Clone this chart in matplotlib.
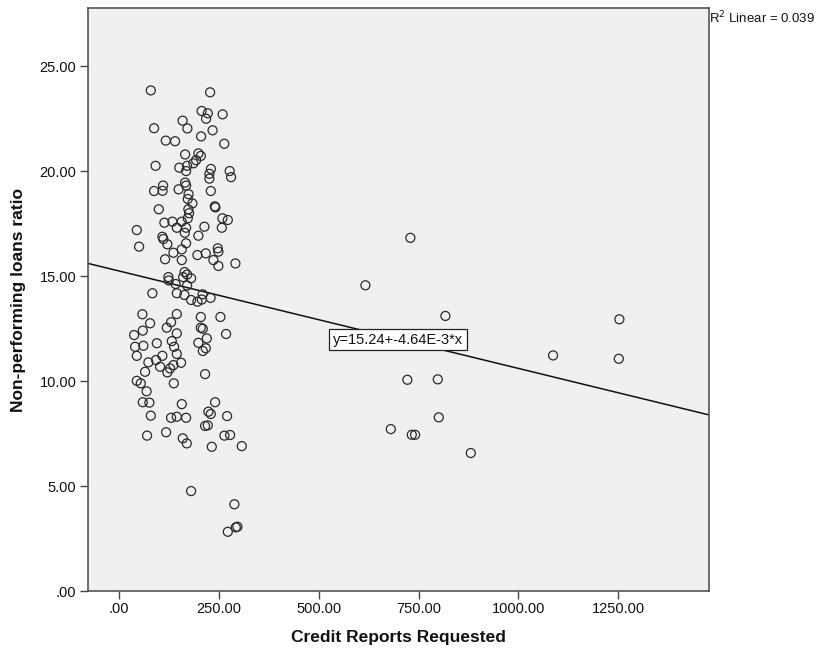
import matplotlib
matplotlib.use("Agg")
import matplotlib.pyplot as plt
import numpy as np
from matplotlib.ticker import FuncFormatter

plt.rcParams['font.family'] = ['Liberation Sans', 'DejaVu Sans']

# Credit Reports Requested (x) and Non-performing loans ratio (y)
reports = [
    79.4, 227.9, 206.6, 222.1, 259.2, 217.8, 159.0, 87.6, 171.0, 234.1,
    205.3, 116.9, 140.2, 263.4, 165.3, 198.6, 204.6, 192.8, 186.0, 91.4,
    150.7, 170.3, 167.8, 229.9, 226.1, 226.1, 276.9, 280.4, 110.2, 165.3,
    167.8, 87.6, 108.9, 149.0, 229.6, 174.0,
    172.0, 183.5, 173.5, 175.3, 172.0, 99.4, 239.6, 241.1, 258.7, 272.2,
    257.2, 213.6, 198.6, 113.4, 133.5, 157.0, 144.5, 167.8, 164.5, 44.3,
    50.1, 108.4, 110.9, 120.9, 167.8, 157.0, 136.0, 115.2, 157.0, 196.1,
    217.1, 247.1, 248.6, 236.1, 248.6, 291.2,
    123.4, 124.4, 141.5, 164.0, 170.3, 160.3, 180.3, 170.3, 83.4, 144.5,
    163.5, 180.3, 196.1, 207.1, 209.1, 229.1,
    58.3, 144.5, 77.6, 130.2, 119.4, 59.3, 37.6, 144.5, 204.6, 253.7,
    204.6, 209.6, 267.9, 219.6, 198.6, 217.1, 209.6, 94.4, 132.0, 137.7,
    40.1, 60.8, 44.3, 144.5, 108.4, 92.6, 73.4, 155.2, 102.7, 136.0,
    127.7, 65.1, 120.9, 215.3, 44.3, 54.3, 137.0, 68.9,
    59.3, 75.9, 157.0, 240.4, 79.4, 130.2, 144.5, 167.8, 223.6, 229.6,
    270.4, 215.3, 222.1, 70.1, 117.7, 159.5, 169.5, 232.1, 263.7, 277.9,
    307.2, 180.3,
    288.7, 272.2, 292.2, 296.2,
    729.3, 616.7, 817.0, 1252.6, 1251.1, 1086.6, 721.8, 797.9, 800.4, 680.3,
    732.8, 741.1, 880.6,
]
npl_ratio = [
    23.84, 23.75, 22.86, 22.75, 22.70, 22.49, 22.40, 22.04, 22.03, 21.94,
    21.65, 21.45, 21.42, 21.30, 20.79, 20.84, 20.72, 20.52, 20.37, 20.25,
    20.16, 20.25, 20.00, 20.10, 19.87, 19.64, 20.00, 19.71, 19.31, 19.45,
    19.31, 19.05, 19.06, 19.13, 19.05, 18.90,
    18.67, 18.46, 18.18, 17.99, 17.75, 18.18, 18.32, 18.27, 17.75, 17.67,
    17.30, 17.35, 16.92, 17.54, 17.59, 17.59, 17.30, 17.30, 17.06, 17.19,
    16.40, 16.87, 16.76, 16.51, 16.56, 16.27, 16.11, 15.80, 15.76, 16.00,
    16.08, 16.32, 16.16, 15.76, 15.48, 15.60,
    14.95, 14.79, 14.62, 15.19, 15.07, 14.95, 14.89, 14.55, 14.18, 14.18,
    14.10, 13.86, 13.78, 13.88, 14.13, 13.96,
    13.18, 13.19, 12.75, 12.80, 12.54, 12.40, 12.19, 12.27, 13.05, 13.05,
    12.54, 12.49, 12.24, 12.03, 11.82, 11.56, 11.43, 11.80, 11.90, 11.63,
    11.63, 11.68, 11.20, 11.29, 11.20, 11.00, 10.89, 10.87, 10.68, 10.76,
    10.60, 10.44, 10.41, 10.33, 10.01, 9.89, 9.89, 9.51,
    8.99, 8.97, 8.90, 8.99, 8.35, 8.25, 8.30, 8.25, 8.54, 8.43,
    8.33, 7.86, 7.89, 7.40, 7.56, 7.27, 7.03, 6.87, 7.40, 7.43,
    6.90, 4.76,
    4.13, 2.82, 3.03, 3.06,
    16.82, 14.56, 13.10, 12.94, 11.06, 11.22, 10.06, 10.08, 8.27, 7.71,
    7.44, 7.44, 6.57,
]

fit_intercept = 15.24
fit_slope = -4.64e-3
r2_linear = 0.039
fit_label = "y=15.24+-4.64E-3*x"

x_ticks = [0, 250, 500, 750, 1000, 1250]
y_ticks = [0, 5, 10, 15, 20, 25]


def spss_fmt(v, pos=None):
    s = "%.2f" % v
    if s.startswith("0."):
        s = s[1:]
    return s


fig = plt.figure(figsize=(8.25, 6.55), dpi=100)
ax = fig.add_axes([0.1061, 0.0977, 0.7533, 0.8896])
ax.set_facecolor('#f0f0f0')

xlim = (-79, 1477)
ax.set_xlim(*xlim)
ax.set_ylim(0, 27.75)

ax.scatter(reports, npl_ratio, s=42, facecolors='none', edgecolors='#2a2a2a',
           linewidths=0.9, zorder=3)

xl = np.array(xlim, dtype=float)
ax.plot(xl, fit_intercept + fit_slope * xl, color='#111111', lw=1.1, zorder=2)

ax.text(698, 11.97, fit_label, ha='center', va='center', fontsize=10.5,
        color='#111111', zorder=5,
        bbox=dict(boxstyle='square,pad=0.25', facecolor='white',
                  edgecolor='#222222', linewidth=0.9))

ax.set_xticks(x_ticks)
ax.set_yticks(y_ticks)
ax.xaxis.set_major_formatter(FuncFormatter(spss_fmt))
ax.yaxis.set_major_formatter(FuncFormatter(spss_fmt))
ax.tick_params(axis='both', direction='out', length=6, width=1,
               color='#444444', labelsize=10.5, labelcolor='#111111')
ax.tick_params(axis='x', pad=2)
ax.tick_params(axis='y', pad=2)

for sp in ax.spines.values():
    sp.set_color('#555555')
    sp.set_linewidth(1.2)

ax.set_xlabel('Credit Reports Requested', fontsize=12.5, fontweight='bold',
              labelpad=10, color='#111111')
ax.set_ylabel('Non-performing loans ratio', fontsize=12.5, fontweight='bold',
              labelpad=10, color='#111111')

fig.text(0.859, 0.972, r'R$^2$ Linear = ' + '%.3f' % r2_linear,
         ha='left', va='center', fontsize=9.5, color='#111111')

fig.savefig('out.png', dpi=100, facecolor='white')
